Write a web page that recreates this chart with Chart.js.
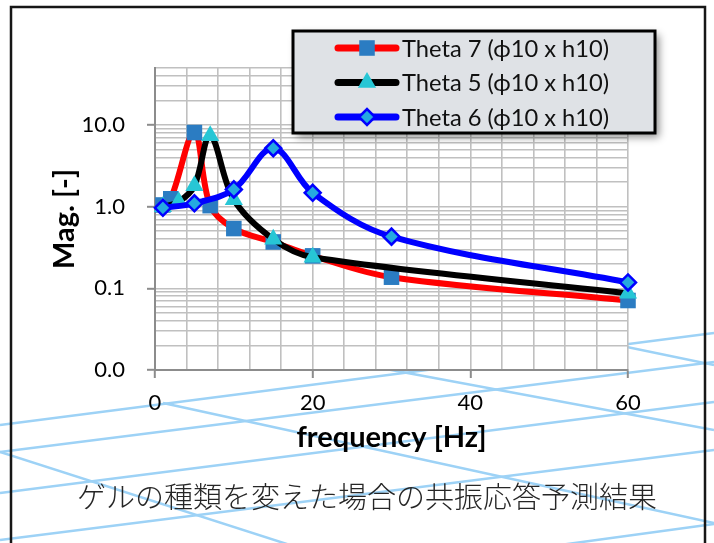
<!DOCTYPE html>
<html><head><meta charset="utf-8">
<script src="https://cdn.jsdelivr.net/npm/chart.js@4.4.1/dist/chart.umd.min.js"></script>
<style>html,body{margin:0;padding:0;background:#fff;overflow:hidden}canvas{display:block}</style>
</head><body>
<canvas id="c" width="714" height="543"></canvas>
<script>
// ---- data ----
const seriesNames = ['Theta 7 (ϕ10 x h10)', 'Theta 5 (ϕ10 x h10)', 'Theta 6 (ϕ10 x h10)'];
const theta7Freq = [1, 2, 5, 7, 10, 15, 20, 30, 60];
const theta7Mag  = [1.05, 1.25, 8.1, 1.03, 0.54, 0.37, 0.25, 0.137, 0.071];
const theta5Freq = [1, 3, 5, 7, 10, 15, 20, 60];
const theta5Mag  = [1.0, 1.15, 1.8, 7.4, 1.22, 0.40, 0.24, 0.087];
const theta6Freq = [1, 5, 10, 15, 20, 30, 60];
const theta6Mag  = [0.97, 1.1, 1.63, 5.2, 1.48, 0.43, 0.118];
const xGridValues = [0, 4, 8, 12, 16, 20, 24, 28, 32, 36, 40, 44, 48, 52, 56, 60];
const xLabelValues = [0, 20, 40, 60];
const yGridValues = [0.01, 0.02, 0.03, 0.04, 0.05, 0.06, 0.07, 0.08, 0.09,
                     0.1, 0.2, 0.3, 0.4, 0.5, 0.6, 0.7, 0.8, 0.9,
                     1, 2, 3, 4, 5, 6, 7, 8, 9,
                     10, 20, 30, 40, 50];
const yLabelValues = [0.01, 0.1, 1, 10];
const xTitle = 'frequency [Hz]';
const yTitle = 'Mag. [-]';
const caption = 'ゲルの種類を変えた場合の共振応答予測結果';

// ---- styles ----
const lineColors = ['#ff0000', '#000000', '#0000ff'];
const markerFill = ['#2b7cc2', '#27c6d5', '#25a9e0'];
const markerBorder = ['#2b7cc2', '#27c6d5', '#0000ff'];
const markerStyles = ['rect', 'triangle', 'rectRot'];
const markerRadius = [11, 10.5, 8];
const markerBorderW = [0, 0, 2.5];

function isIn(list, v) { return list.some(t => Math.abs(t - v) <= Math.abs(t) * 1e-6 + 1e-12); }
function pts(fs, ms) { return fs.map((f, i) => ({ x: f, y: ms[i] })); }

const decoLines = [
  [0, 425, 714, 333], [0, 452, 714, 362], [0, 493, 714, 402], [0, 540, 714, 450], [560, 545, 714, 524],
  [0, 452, 290, 545], [163, 403, 714, 523], [300, 353, 714, 430], [400, 300, 714, 365]
];

const backPlugin = {
  id: 'back',
  beforeDraw(chart) {
    const { ctx, chartArea: a } = chart;
    ctx.save();
    ctx.fillStyle = '#ffffff';
    ctx.fillRect(0, 0, chart.width, chart.height);
    ctx.strokeStyle = '#9dd2f6';
    ctx.lineWidth = 2.5;
    decoLines.forEach(l => { ctx.beginPath(); ctx.moveTo(l[0], l[1]); ctx.lineTo(l[2], l[3]); ctx.stroke(); });
    ctx.strokeStyle = '#161616';
    ctx.lineWidth = 2.5;
    ctx.strokeRect(11, 7, 694, 600);
    ctx.fillStyle = '#ffffff';
    ctx.fillRect(a.left, a.top, a.right - a.left, a.bottom - a.top);
    ctx.restore();
  },
  afterDraw(chart) {
    const ctx = chart.ctx;
    ctx.save();
    ctx.font = '300 29px "Noto Sans CJK JP", sans-serif';
    ctx.fillStyle = '#262626';
    ctx.textAlign = 'center';
    ctx.textBaseline = 'middle';
    ctx.fillText(caption, 367, 497);
    ctx.restore();
  }
};

function drawMarker(ctx, i, x, y) {
  ctx.save();
  ctx.fillStyle = markerFill[i];
  ctx.strokeStyle = markerBorder[i];
  ctx.lineWidth = markerBorderW[i];
  const r = markerRadius[i];
  ctx.beginPath();
  if (markerStyles[i] === 'rect') {
    const s = r * Math.SQRT1_2;
    ctx.rect(x - s, y - s, 2 * s, 2 * s);
  } else if (markerStyles[i] === 'triangle') {
    ctx.moveTo(x, y - r);
    ctx.lineTo(x + r * Math.sin(2 * Math.PI / 3), y + r / 2);
    ctx.lineTo(x - r * Math.sin(2 * Math.PI / 3), y + r / 2);
    ctx.closePath();
  } else {
    ctx.moveTo(x - r, y); ctx.lineTo(x, y - r); ctx.lineTo(x + r, y); ctx.lineTo(x, y + r); ctx.closePath();
  }
  ctx.fill();
  if (markerBorderW[i] > 0) ctx.stroke();
  ctx.restore();
}

const legendPlugin = {
  id: 'boxLegend',
  afterDatasetsDraw(chart) {
    const ctx = chart.ctx;
    const bx = 293, by = 31, bw = 362, bh = 102;
    ctx.save();
    ctx.shadowColor = 'rgba(0,0,0,0.45)';
    ctx.shadowBlur = 8;
    ctx.shadowOffsetX = 4;
    ctx.shadowOffsetY = 4;
    ctx.fillStyle = '#dfe2e6';
    ctx.fillRect(bx, by, bw, bh);
    ctx.restore();
    ctx.save();
    ctx.strokeStyle = '#000';
    ctx.lineWidth = 3;
    ctx.strokeRect(bx, by, bw, bh);
    ctx.font = '23.7px Lato, "Open Sans", sans-serif';
    ctx.textBaseline = 'middle';
    seriesNames.forEach((name, i) => {
      const y = by + 17 + i * 34.5;
      ctx.strokeStyle = lineColors[i];
      ctx.lineWidth = 7;
      ctx.lineCap = 'round';
      ctx.beginPath(); ctx.moveTo(338, y); ctx.lineTo(396, y); ctx.stroke();
      drawMarker(ctx, i, 367, y);
      ctx.fillStyle = '#111';
      ctx.fillText(name, 402, y + 1);
    });
    ctx.restore();
  }
};

function ds(i, fs, ms, order) {
  return {
    label: seriesNames[i], data: pts(fs, ms), order: order,
    borderColor: lineColors[i], borderWidth: 6, tension: 0.35, fill: false,
    pointStyle: markerStyles[i], pointRadius: markerRadius[i], pointHoverRadius: markerRadius[i],
    pointBackgroundColor: markerFill[i], pointBorderColor: markerBorder[i], pointBorderWidth: markerBorderW[i],
    clip: false
  };
}

function build() {
  new Chart(document.getElementById('c'), {
    type: 'line',
    data: { datasets: [ds(0, theta7Freq, theta7Mag, 2), ds(1, theta5Freq, theta5Mag, 1), ds(2, theta6Freq, theta6Mag, 0)] },
    options: {
      responsive: false, animation: false, devicePixelRatio: 1,
      layout: { padding: { top: 68, right: 86, left: 0, bottom: 63.4 } },
      plugins: { legend: { display: false }, tooltip: { enabled: false }, title: { display: false } },
      scales: {
        x: {
          type: 'linear', min: 0, max: 60,
          afterBuildTicks: s => { s.ticks = xGridValues.map(v => ({ value: v })); },
          afterFit: s => { s.height = 109.6; },
          ticks: { autoSkip: false, maxRotation: 0, padding: 12, color: '#000',
                   font: { family: 'Lato, "Open Sans", sans-serif', size: 22 },
                   callback: v => isIn(xLabelValues, v) ? String(v) : '' },
          grid: { color: '#c0c0c0', lineWidth: 1.6, tickLength: 8,
                  tickColor: c => (c.tick && isIn(xLabelValues, c.tick.value)) ? '#8c8c8c' : 'rgba(0,0,0,0)', tickWidth: 2 },
          border: { color: '#8c8c8c', width: 2 },
          title: { display: true, text: xTitle, color: '#000',
                   font: { family: 'Lato, "Open Sans", sans-serif', size: 29, weight: 'bold' },
                   padding: { top: 0, bottom: 24.2 } }
        },
        y: {
          type: 'logarithmic', min: 0.01, max: 50,
          afterBuildTicks: s => { s.ticks = yGridValues.map(v => ({ value: v })); },
          afterFit: s => { s.width = 155; },
          ticks: { autoSkip: false, padding: 22, color: '#000',
                   font: { family: 'Lato, "Open Sans", sans-serif', size: 22 },
                   callback: v => isIn(yLabelValues, v) ? Number(v).toFixed(1) : '' },
          grid: { color: '#c0c0c0', lineWidth: 1.6, tickLength: 8,
                  tickColor: c => (c.tick && isIn(yLabelValues, c.tick.value)) ? '#8c8c8c' : 'rgba(0,0,0,0)', tickWidth: 2 },
          border: { color: '#8c8c8c', width: 2 },
          title: { display: true, text: yTitle, color: '#000',
                   font: { family: 'Lato, "Open Sans", sans-serif', size: 29, weight: 'bold' },
                   padding: { top: 47.6, bottom: 0 } }
        }
      }
    },
    plugins: [backPlugin, legendPlugin]
  });
}
const fontLoads = ['22px Lato', 'bold 29px Lato', '23.7px Lato', '300 29px "Noto Sans CJK JP"', '29px "Noto Sans CJK JP"'].map(f => document.fonts.load(f, 'Aa0ゲ').catch(() => null));
Promise.all(fontLoads).then(build, build);
</script>
</body></html>
